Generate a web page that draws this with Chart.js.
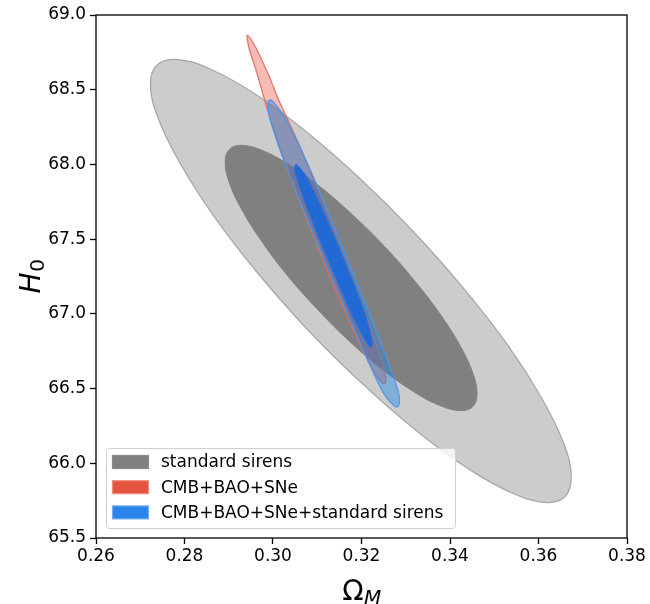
<!DOCTYPE html>
<html>
<head>
<meta charset="utf-8">
<script src="https://cdn.jsdelivr.net/npm/chart.js@4/dist/chart.umd.min.js"></script>
<style>
html,body{margin:0;padding:0;background:#fff;}
canvas{display:block;}
</style>
</head>
<body>
<canvas id="c" width="650" height="604"></canvas>
<script>
// ---- data (Omega_M, H0) ----
const xTicks = [0.26, 0.28, 0.30, 0.32, 0.34, 0.36, 0.38];
const yTicks = [65.5, 66.0, 66.5, 67.0, 67.5, 68.0, 68.5, 69.0];
const seriesNames = ['standard sirens', 'CMB+BAO+SNe', 'CMB+BAO+SNe+standard sirens'];

// standard sirens, 2-sigma contour
const sirens2sigma = [
  [0.3659,65.774],[0.3613,65.738],[0.3539,65.803],[0.3441,65.964],[0.3327,66.211],
  [0.3204,66.527],[0.3080,66.889],[0.2965,67.275],[0.2866,67.656],[0.2790,68.008],
  [0.2741,68.306],[0.2723,68.530],[0.2738,68.665],[0.2785,68.702],[0.2859,68.637],
  [0.2957,68.476],[0.3071,68.229],[0.3194,67.913],[0.3317,67.551],[0.3432,67.165],
  [0.3532,66.784],[0.3608,66.432],[0.3657,66.133],[0.3674,65.910]
];
// standard sirens, 1-sigma contour
const sirens1sigma = [
  [0.3451,66.378],[0.3422,66.353],[0.3376,66.388],[0.3317,66.481],[0.3248,66.626],
  [0.3174,66.813],[0.3101,67.029],[0.3032,67.259],[0.2974,67.488],[0.2929,67.700],
  [0.2901,67.881],[0.2892,68.018],[0.2902,68.102],[0.2931,68.127],[0.2977,68.092],
  [0.3036,67.999],[0.3105,67.854],[0.3178,67.667],[0.3252,67.451],[0.3320,67.221],
  [0.3379,66.992],[0.3424,66.780],[0.3452,66.599],[0.3461,66.462]
];
// CMB+BAO+SNe, 2-sigma contour
const cmb2sigma = [
  [0.2942,68.863],[0.2951,68.833],[0.2964,68.766],[0.2990,68.598],[0.3013,68.431],
  [0.3039,68.264],[0.3064,68.097],[0.3102,67.829],[0.3138,67.561],[0.3172,67.294],
  [0.3199,67.073],[0.3232,66.805],[0.3251,66.624],[0.3255,66.557],[0.3251,66.531],
  [0.3241,66.557],[0.3226,66.624],[0.3195,66.805],[0.3154,67.073],[0.3122,67.294],
  [0.3086,67.561],[0.3051,67.829],[0.3017,68.097],[0.2998,68.264],[0.2981,68.431],
  [0.2965,68.598],[0.2947,68.766],[0.2942,68.833]
];
// CMB+BAO+SNe+standard sirens, 2-sigma contour
const comb2sigma = [
  [0.2993,68.431],[0.3005,68.404],[0.3023,68.331],[0.3042,68.230],[0.3064,68.097],
  [0.3104,67.829],[0.3142,67.561],[0.3178,67.294],[0.3210,67.059],[0.3241,66.825],
  [0.3267,66.624],[0.3282,66.490],[0.3286,66.417],[0.3280,66.377],[0.3263,66.417],
  [0.3246,66.490],[0.3224,66.624],[0.3194,66.825],[0.3160,67.059],[0.3126,67.294],
  [0.3088,67.561],[0.3051,67.829],[0.3016,68.097],[0.3001,68.230],[0.2991,68.331],
  [0.2989,68.404]
];
// CMB+BAO+SNe+standard sirens, 1-sigma contour
const comb1sigma = [
  [0.3052,67.999],[0.3061,67.976],[0.3076,67.916],[0.3107,67.729],[0.3142,67.494],
  [0.3181,67.213],[0.3210,66.979],[0.3221,66.859],[0.3224,66.805],[0.3221,66.778],
  [0.3212,66.805],[0.3202,66.859],[0.3181,66.979],[0.3146,67.213],[0.3106,67.494],
  [0.3075,67.729],[0.3053,67.916],[0.3049,67.976]
];

// ---- styles ----
const legendColors = [
  {fill:'#808080', edge:'#8a8a8a'},
  {fill:'#e5533f', edge:'#ee8e82'},
  {fill:'#2a85ea', edge:'#76aef0'}
];
const FONT = "'DejaVu Sans', sans-serif";

const toPts = arr => arr.map(([x, y]) => ({x, y}));
const common = {showLine: true, fill: 'shape', tension: 0.4, pointRadius: 0, pointHoverRadius: 0};

const datasets = [
  Object.assign({label: seriesNames[2] + ' 1σ', data: toPts(comb1sigma), order: 0,
    backgroundColor: 'rgba(30,104,214,0.96)', borderColor: 'rgba(40,110,220,1)', borderWidth: 1}, common),
  Object.assign({label: seriesNames[2] + ' 2σ', data: toPts(comb2sigma), order: 1,
    backgroundColor: 'rgba(30,136,229,0.42)', borderColor: 'rgba(75,150,235,0.95)', borderWidth: 1.3}, common),
  Object.assign({label: seriesNames[1] + ' 2σ', data: toPts(cmb2sigma), order: 2,
    backgroundColor: 'rgba(231,76,60,0.38)', borderColor: 'rgba(225,105,95,0.9)', borderWidth: 1.3}, common),
  Object.assign({label: seriesNames[0] + ' 1σ', data: toPts(sirens1sigma), order: 3,
    backgroundColor: '#808080', borderColor: '#808080', borderWidth: 1}, common),
  Object.assign({label: seriesNames[0] + ' 2σ', data: toPts(sirens2sigma), order: 4,
    backgroundColor: '#cccccc', borderColor: '#a8a8a8', borderWidth: 1.3}, common)
];

const decor = {
  id: 'decor',
  afterDatasetUpdate(chart, args) {
    const el = args.meta.dataset;
    if (el) { el._loop = true; el._fullLoop = true; }
  },
  afterDatasetsDraw(chart) {
    const ctx = chart.ctx, a = chart.chartArea;
    const bx = a.left + 10.5, by = a.bottom - 90 + 0.5, bw = 349, bh = 80, r = 3;
    ctx.save();
    ctx.beginPath();
    ctx.moveTo(bx + r, by);
    ctx.lineTo(bx + bw - r, by); ctx.arcTo(bx + bw, by, bx + bw, by + r, r);
    ctx.lineTo(bx + bw, by + bh - r); ctx.arcTo(bx + bw, by + bh, bx + bw - r, by + bh, r);
    ctx.lineTo(bx + r, by + bh); ctx.arcTo(bx, by + bh, bx, by + bh - r, r);
    ctx.lineTo(bx, by + r); ctx.arcTo(bx, by, bx + r, by, r);
    ctx.closePath();
    ctx.fillStyle = 'rgba(255,255,255,0.8)';
    ctx.fill();
    ctx.strokeStyle = '#d0d0d0';
    ctx.lineWidth = 1;
    ctx.stroke();
    ctx.font = '17px ' + FONT;
    ctx.textBaseline = 'middle';
    ctx.textAlign = 'left';
    for (let i = 0; i < seriesNames.length; i++) {
      const cy = by + 13.5 + i * 25.2;
      ctx.fillStyle = legendColors[i].fill;
      ctx.fillRect(bx + 6, cy - 6.5, 36, 13);
      ctx.strokeStyle = legendColors[i].edge;
      ctx.lineWidth = 1.2;
      ctx.strokeRect(bx + 6, cy - 6.5, 36, 13);
      ctx.fillStyle = '#000';
      ctx.fillText(seriesNames[i], bx + 54.5, cy + 1);
    }
    ctx.restore();
  },
  afterDraw(chart) {
    const ctx = chart.ctx, a = chart.chartArea;
    ctx.save();
    ctx.strokeStyle = '#000';
    ctx.lineWidth = 1.3;
    ctx.strokeRect(a.left, a.top, a.right - a.left, a.bottom - a.top);
    ctx.fillStyle = '#000';
    ctx.textBaseline = 'alphabetic';
    ctx.textAlign = 'left';
    // x title: Omega_M
    const cx = (a.left + a.right) / 2;
    ctx.font = '28px ' + FONT;
    const w1 = ctx.measureText('Ω').width;
    ctx.font = 'italic 20px ' + FONT;
    const w2 = ctx.measureText('M').width;
    let sx = cx - (w1 + w2) / 2;
    ctx.font = '28px ' + FONT;
    ctx.fillText('Ω', sx, 600);
    ctx.font = 'italic 20px ' + FONT;
    ctx.fillText('M', sx + w1 + 0.5, 603.5);
    // y title: H_0
    const cy = (a.top + a.bottom) / 2;
    ctx.translate(40, cy);
    ctx.rotate(-Math.PI / 2);
    ctx.font = 'italic 28px ' + FONT;
    const h1 = ctx.measureText('H').width;
    ctx.font = '20px ' + FONT;
    const h2 = ctx.measureText('0').width;
    sx = -(h1 + h2) / 2;
    ctx.font = 'italic 28px ' + FONT;
    ctx.fillText('H', sx, 0);
    ctx.font = '20px ' + FONT;
    ctx.fillText('0', sx + h1 + 0.5, 4);
    ctx.restore();
  }
};

const tickFont = {family: FONT, size: 17};
new Chart(document.getElementById('c'), {
  type: 'scatter',
  data: {datasets},
  options: {
    responsive: false,
    animation: false,
    events: [],
    layout: {padding: {left: 0, top: 15, right: 23, bottom: 0}},
    plugins: {legend: {display: false}, tooltip: {enabled: false}},
    scales: {
      x: {
        type: 'linear', min: xTicks[0], max: xTicks[xTicks.length - 1],
        afterBuildTicks: s => { s.ticks = xTicks.map(v => ({value: v})); },
        afterFit: s => { s.height = 66; },
        ticks: {callback: v => Number(v).toFixed(2), font: tickFont, color: '#000', padding: 2, autoSkip: false, maxRotation: 0},
        grid: {display: true, drawOnChartArea: false, drawTicks: true, tickLength: 6, tickColor: '#000', tickWidth: 1.3},
        border: {display: false}
      },
      y: {
        type: 'linear', min: yTicks[0], max: yTicks[yTicks.length - 1],
        afterBuildTicks: s => { s.ticks = yTicks.map(v => ({value: v})); },
        afterFit: s => { s.width = 96; },
        ticks: {callback: v => Number(v).toFixed(1), font: tickFont, color: '#000', padding: 4, autoSkip: false},
        grid: {display: true, drawOnChartArea: false, drawTicks: true, tickLength: 6, tickColor: '#000', tickWidth: 1.3},
        border: {display: false}
      }
    }
  },
  plugins: [decor]
});
</script>
</body>
</html>
